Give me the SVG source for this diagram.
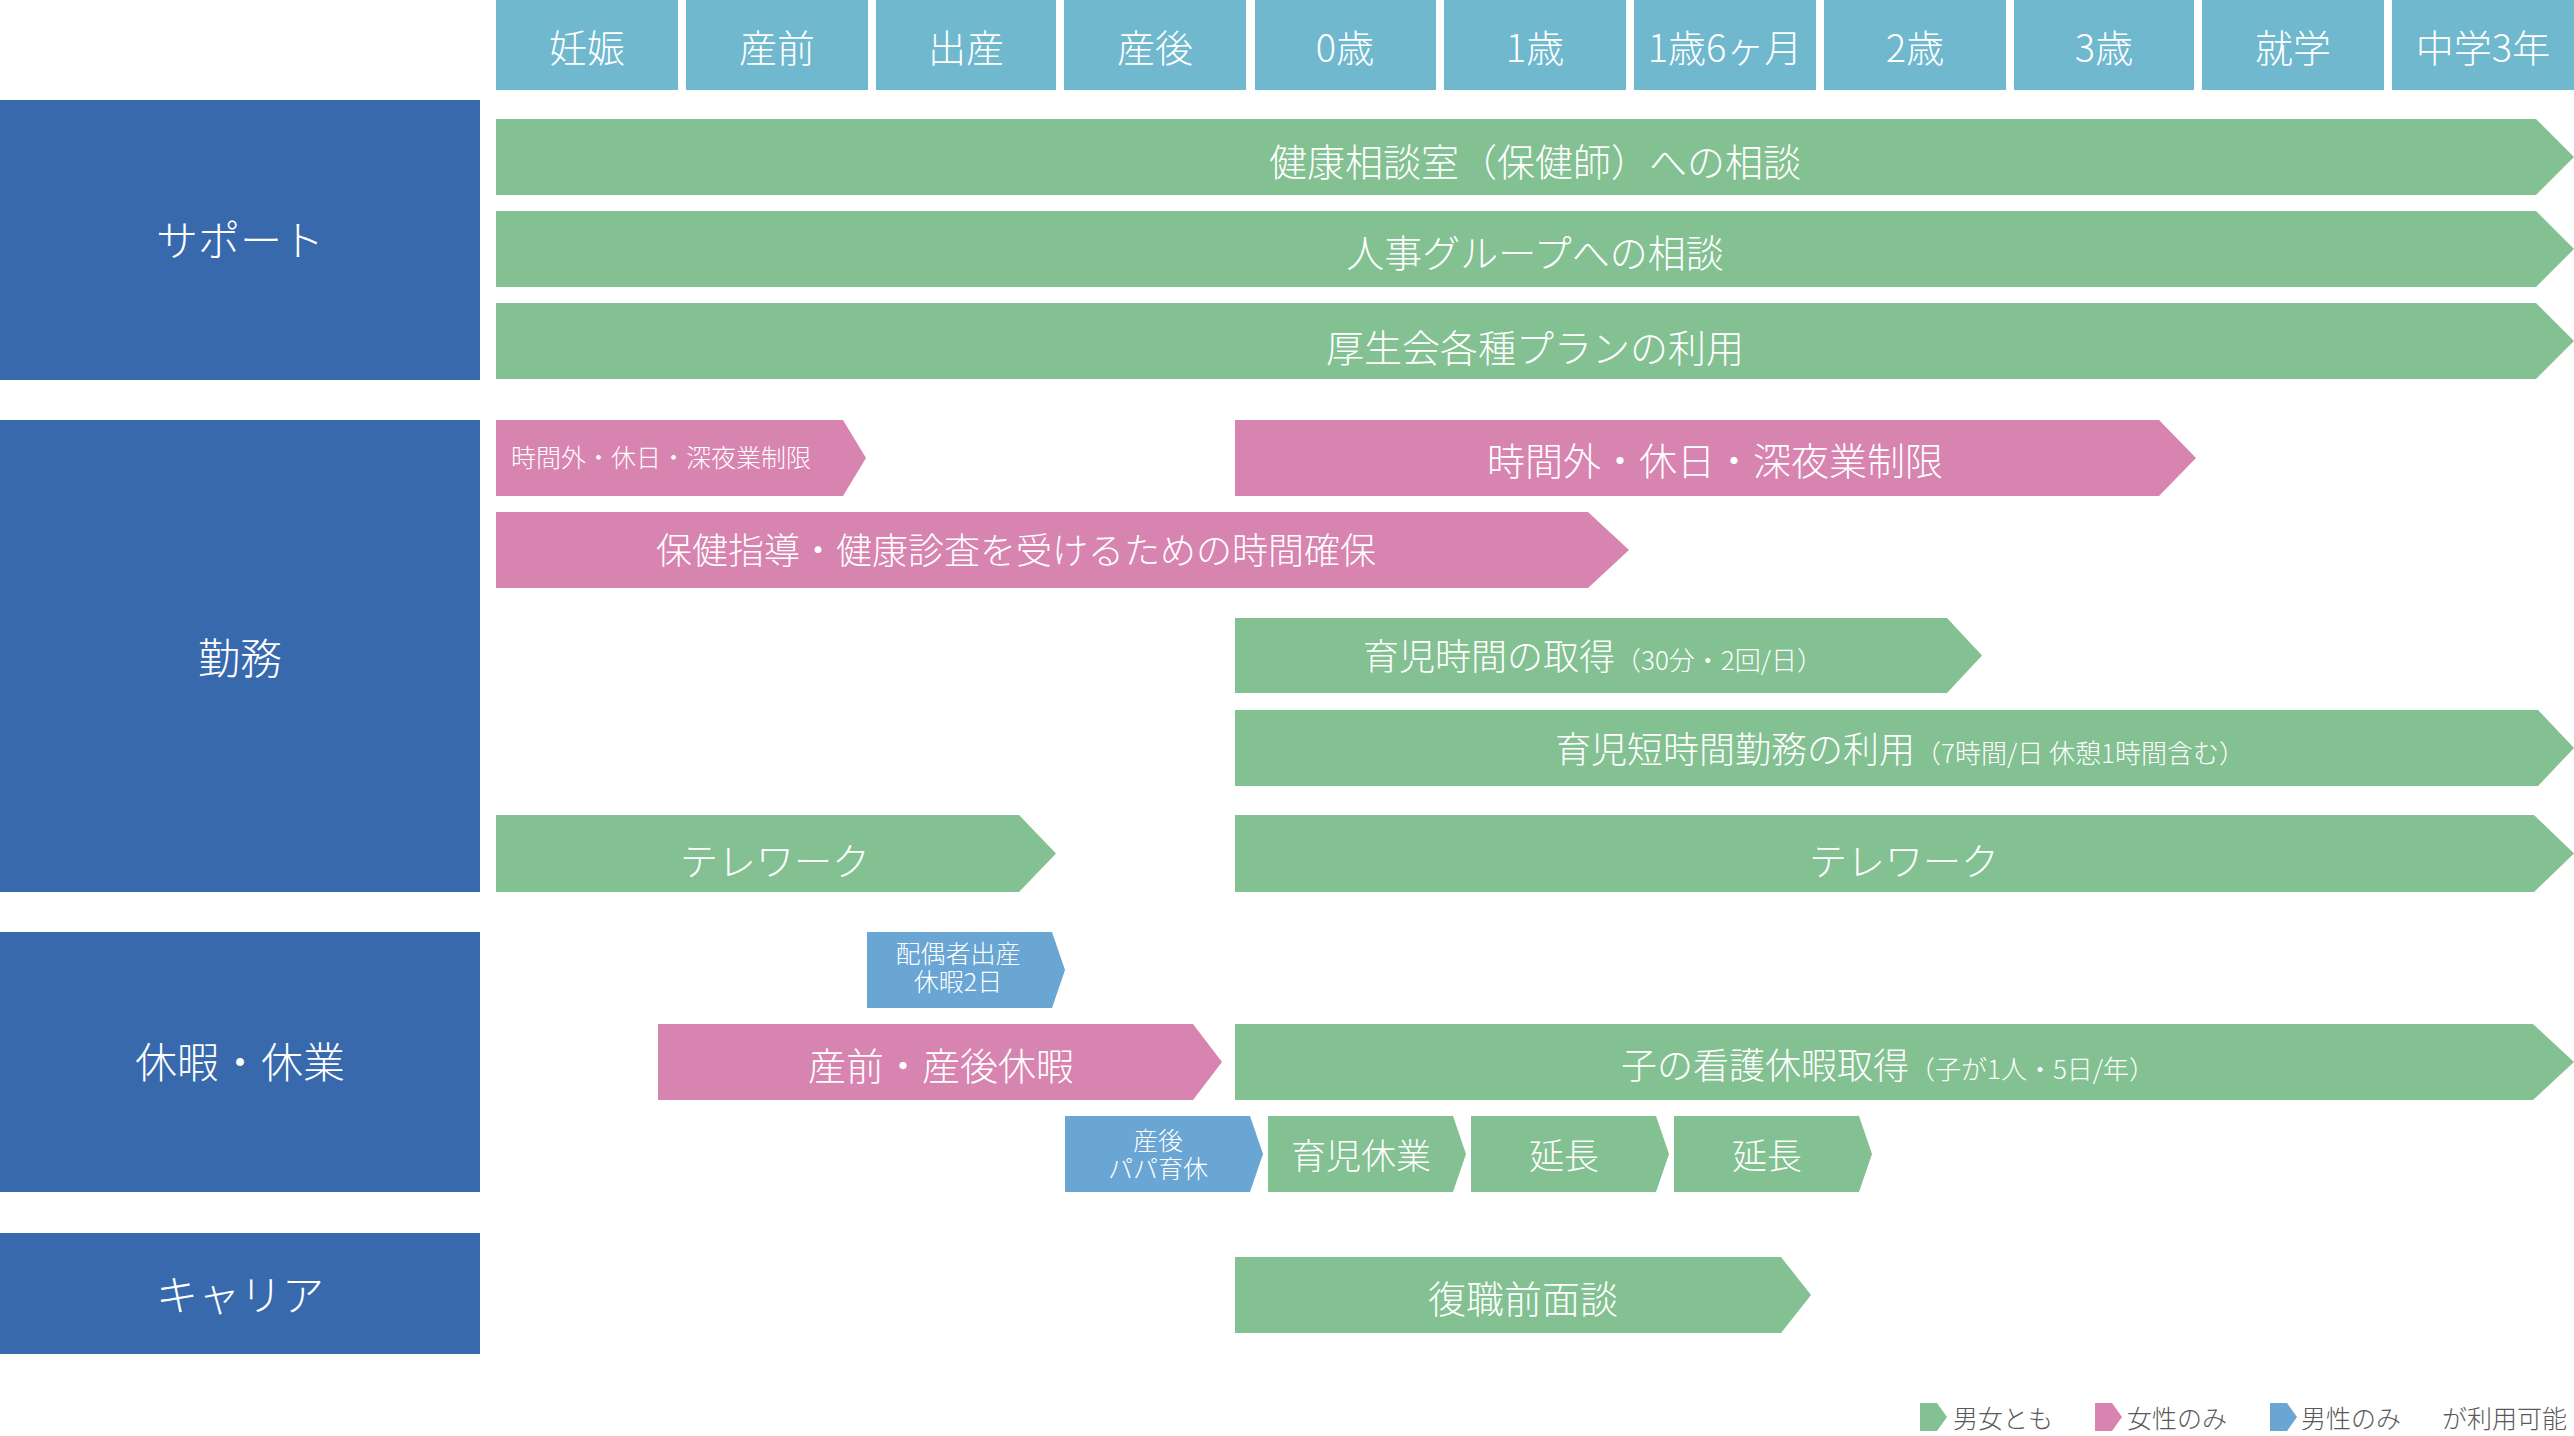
<svg xmlns="http://www.w3.org/2000/svg" width="2574" height="1436" viewBox="0 0 2574 1436">
<style>
text{font-family:"Noto Sans CJK JP","Noto Sans",sans-serif;font-weight:300;fill:#fff;text-anchor:middle}
.hd{fill:#6fb8ce}
.cat{fill:#3869ad}
.g{fill:#83c192}
.p{fill:#d884b0}
.b{fill:#6aa6d3}
.th{font-size:38px}
.tc{font-size:42px}
.t38{font-size:38px}
.t36{font-size:36px}
.t35{font-size:35px}
.t25{font-size:25px}
.s26{font-size:26px}
.lg{font-size:25px;fill:#595959;text-anchor:start}
</style>
<rect width="2574" height="1436" fill="#fff"/>

<g id="header">
  <g id="h-ninshin"><rect class="hd" x="496" y="0" width="182" height="90"/><text class="th" x="587" y="62">妊娠</text></g>
  <g id="h-sanzen"><rect class="hd" x="686" y="0" width="182" height="90"/><text class="th" x="777" y="62">産前</text></g>
  <g id="h-shussan"><rect class="hd" x="876" y="0" width="180" height="90"/><text class="th" x="966" y="62">出産</text></g>
  <g id="h-sango"><rect class="hd" x="1064" y="0" width="182" height="90"/><text class="th" x="1155" y="62">産後</text></g>
  <g id="h-0"><rect class="hd" x="1255" y="0" width="181" height="90"/><text class="th" x="1345" y="62">0歳</text></g>
  <g id="h-1"><rect class="hd" x="1444" y="0" width="182" height="90"/><text class="th" x="1535" y="62">1歳</text></g>
  <g id="h-1-6"><rect class="hd" x="1634" y="0" width="182" height="90"/><text class="th" x="1725" y="62">1歳6ヶ月</text></g>
  <g id="h-2"><rect class="hd" x="1824" y="0" width="182" height="90"/><text class="th" x="1915" y="62">2歳</text></g>
  <g id="h-3"><rect class="hd" x="2014" y="0" width="180" height="90"/><text class="th" x="2104" y="62">3歳</text></g>
  <g id="h-shugaku"><rect class="hd" x="2202" y="0" width="182" height="90"/><text class="th" x="2293" y="62">就学</text></g>
  <g id="h-chugaku"><rect class="hd" x="2392" y="0" width="182" height="90"/><text class="th" x="2483" y="62">中学3年</text></g>
</g>

<g id="categories">
  <g id="cat-support"><rect class="cat" x="0" y="100" width="480" height="280"/><text class="tc" x="240" y="256">サポート</text></g>
  <g id="cat-kinmu"><rect class="cat" x="0" y="420" width="480" height="472"/><text class="tc" x="240" y="674">勤務</text></g>
  <g id="cat-kyuka"><rect class="cat" x="0" y="932" width="480" height="260"/><text class="tc" x="240" y="1078">休暇・休業</text></g>
  <g id="cat-career"><rect class="cat" x="0" y="1233" width="480" height="121"/><text class="tc" x="240" y="1311">キャリア</text></g>
</g>

<g id="support">
  <g id="s-kenko"><path class="g" d="M496,119H2536L2574,157L2536,195H496Z"/><text class="t38" x="1535" y="176">健康相談室（保健師）への相談</text></g>
  <g id="s-jinji"><path class="g" d="M496,211H2536L2574,249L2536,287H496Z"/><text class="t38" x="1535" y="267">人事グループへの相談</text></g>
  <g id="s-kouseikai"><path class="g" d="M496,303H2536L2574,341L2536,379H496Z"/><text class="t38" x="1535" y="362">厚生会各種プランの利用</text></g>
</g>

<g id="kinmu">
  <g id="k-seigen1"><path class="p" d="M496,420H843L866,458L843,496H496Z"/><text class="t25" x="661" y="467" textLength="300">時間外・休日・深夜業制限</text></g>
  <g id="k-seigen2"><path class="p" d="M1235,420H2159L2196,458L2159,496H1235Z"/><text class="t38" x="1715" y="475">時間外・休日・深夜業制限</text></g>
  <g id="k-hoken"><path class="p" d="M496,512H1588L1629,550L1588,588H496Z"/><text class="t36" x="1016" y="564">保健指導・健康診査を受けるための時間確保</text></g>
  <g id="k-ikuji-jikan"><path class="g" d="M1235,618H1947L1982,655.5L1947,693H1235Z"/><text class="t36" x="1593" y="670">育児時間の取得<tspan class="s26">（30分・2回/日）</tspan></text></g>
  <g id="k-tanjikan"><path class="g" d="M1235,710H2538L2574,748L2538,786H1235Z"/><text class="t36" x="1900" y="763">育児短時間勤務の利用<tspan class="s26">（7時間/日 休憩1時間含む）</tspan></text></g>
  <g id="k-tele1"><path class="g" d="M496,815H1019L1056,853.5L1019,892H496Z"/><text class="t38" x="775" y="875">テレワーク</text></g>
  <g id="k-tele2"><path class="g" d="M1235,815H2534L2574,853.5L2534,892H1235Z"/><text class="t38" x="1904" y="875">テレワーク</text></g>
</g>

<g id="kyuka">
  <g id="v-haiguusha"><path class="b" d="M867,932H1052L1065,970L1052,1008H867Z"/><text class="t25" x="958" y="963">配偶者出産<tspan x="958" dy="28">休暇2日</tspan></text></g>
  <g id="v-sanzengo"><path class="p" d="M658,1024H1193L1222,1062L1193,1100H658Z"/><text class="t38" x="941" y="1080">産前・産後休暇</text></g>
  <g id="v-kango"><path class="g" d="M1235,1024H2533L2574,1062L2533,1100H1235Z"/><text class="t36" x="1888" y="1079">子の看護休暇取得<tspan class="s26">（子が1人・5日/年）</tspan></text></g>
  <g id="v-papa"><path class="b" d="M1065,1116H1250L1263,1154L1250,1192H1065Z"/><text class="t25" x="1158" y="1150">産後<tspan x="1158" dy="28">パパ育休</tspan></text></g>
  <g id="v-ikukyu"><path class="g" d="M1268,1116H1453L1466,1154L1453,1192H1268Z"/><text class="t35" x="1361" y="1169">育児休業</text></g>
  <g id="v-encho1"><path class="g" d="M1471,1116H1656L1669,1154L1656,1192H1471Z"/><text class="t35" x="1564" y="1169">延長</text></g>
  <g id="v-encho2"><path class="g" d="M1674,1116H1859L1872,1154L1859,1192H1674Z"/><text class="t35" x="1767" y="1169">延長</text></g>
</g>

<g id="career">
  <g id="c-fukushoku"><path class="g" d="M1235,1257H1781L1811,1295L1781,1333H1235Z"/><text class="t38" x="1523" y="1313">復職前面談</text></g>
</g>

<g id="legend">
  <g id="lg-both"><path class="g" d="M1920,1403H1937L1947,1417L1937,1431H1920Z"/><text class="lg" x="1953" y="1428">男女とも</text></g>
  <g id="lg-female"><path class="p" d="M2095,1403H2112L2122,1417L2112,1431H2095Z"/><text class="lg" x="2127" y="1428">女性のみ</text></g>
  <g id="lg-male"><path class="b" d="M2270,1403H2287L2297,1417L2287,1431H2270Z"/><text class="lg" x="2301" y="1428">男性のみ</text></g>
  <text class="lg" x="2442" y="1428">が利用可能</text>
</g>
<g id="connectors"/>
</svg>
